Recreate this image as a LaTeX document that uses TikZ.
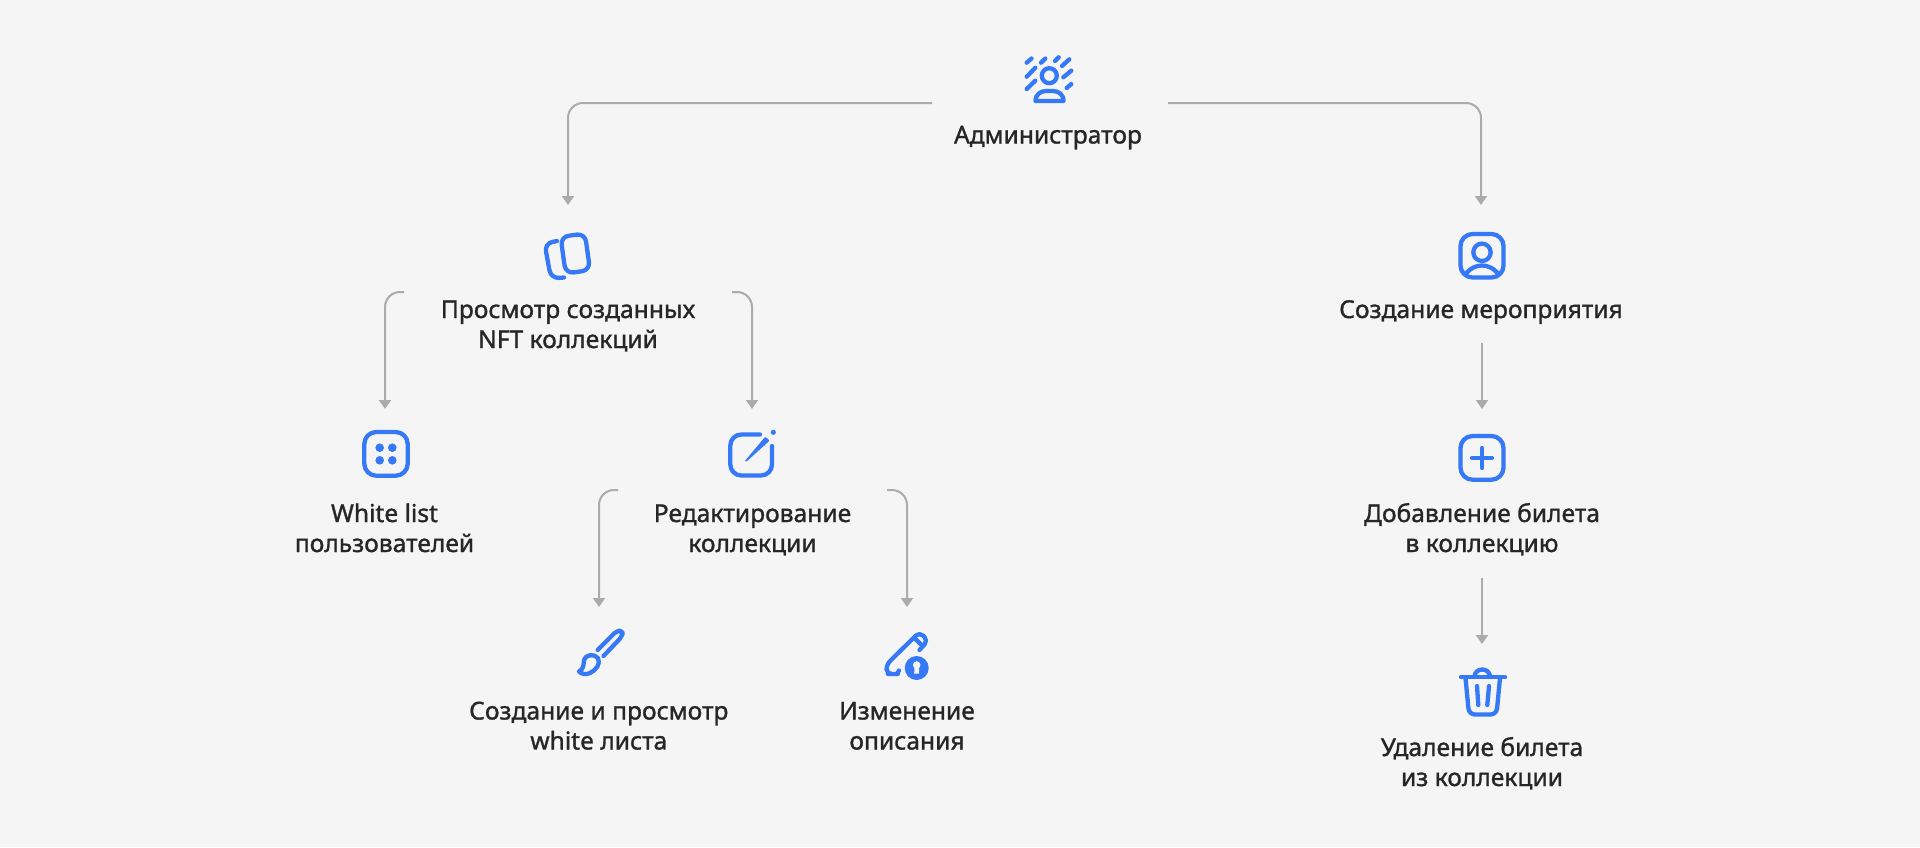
\documentclass[tikz,border=0pt]{standalone}
\usepackage{fontspec}
\setmainfont{Noto Sans}[FakeBold=1.2]
\usetikzlibrary{arrows.meta}
\definecolor{bgc}{HTML}{F5F5F5}
\definecolor{txt}{HTML}{262626}
\definecolor{blu}{HTML}{3579F6}
\definecolor{lin}{HTML}{ABABAB}
\newcommand\lbl[1]{\begin{tabular}[t]{@{}c@{}}#1\end{tabular}}
\tikzset{
  label text/.style={text=txt,inner sep=0pt,anchor=base,font=\fontsize{24.6}{30}\selectfont},
  conn/.style={draw=lin,line width=2pt,rounded corners=15pt,-{Triangle[length=9pt,width=12pt,fill=lin]}},
  icon/.style={draw=blu,line width=4.3pt,line cap=round,line join=round},
  iconfill/.style={fill=blu,draw=none}
}
\begin{document}
\begin{tikzpicture}[x=1pt,y=-1pt]
\useasboundingbox (0,0) rectangle (1920,847);
\fill[bgc] (0,0) rectangle (1920,847);
% labels
\node[label text] (admin) at (1048,143.5) {\lbl{Администратор}};
\node[label text] (view) at (568,318) {\lbl{Просмотр созданных\\NFT коллекций}};
\node[label text] (wl) at (384.5,522) {\lbl{White list\\пользователей}};
\node[label text] (edit) at (752.5,522) {\lbl{Редактирование\\коллекции}};
\node[label text] (make) at (598.8,719.5) {\lbl{Создание и просмотр\\white листа}};
\node[label text] (desc) at (907,719.5) {\lbl{Изменение\\описания}};
\node[label text] (event) at (1481,318) {\lbl{Создание мероприятия}};
\node[label text] (add) at (1482,522) {\lbl{Добавление билета\\в коллекцию}};
\node[label text] (del) at (1482,756) {\lbl{Удаление билета\\из коллекции}};
% connector ends
\coordinate (a1) at (932,103); \coordinate (a2) at (568,205);
\coordinate (b1) at (1168,103); \coordinate (b2) at (1481,205);
\coordinate (c1) at (404,292); \coordinate (c2) at (385,409);
\coordinate (d1) at (732,292); \coordinate (d2) at (752,409);
\coordinate (e1) at (618,490); \coordinate (e2) at (599,607);
\coordinate (f1) at (887,490); \coordinate (f2) at (907,607);
\coordinate (g1) at (1482,343); \coordinate (g2) at (1482,409);
\coordinate (h1) at (1482,578); \coordinate (h2) at (1482,644);
\draw[conn] (a1) -| (a2);
\draw[conn] (b1) -| (b2);
\draw[conn] (c1) -| (c2);
\draw[conn] (d1) -| (d2);
\draw[conn] (e1) -| (e2);
\draw[conn] (f1) -| (f2);
\draw[conn] (g1) -- (g2);
\draw[conn] (h1) -- (h2);
% admin icon
\draw[icon] (1049.3,75.7) circle (7.5);
\draw[icon] (1035.5,101) .. controls (1035.5,94) and (1041,91) .. (1046,91) -- (1053,91) .. controls (1058,91) and (1063.5,94) .. (1063.5,101) -- cycle;
\draw[icon] (1026.7,62.7)--(1031.5,58.5) (1041,62.7)--(1045.3,58.5) (1055,61)--(1058.7,57.3) (1062,66)--(1069.3,59.3)
  (1026.7,76.7)--(1035.3,67.8) (1026.7,89)--(1035.3,80.7) (1063.3,77.3)--(1071.3,70.7) (1066.7,88)--(1071.3,84);
% copies icon
\draw[icon,rounded corners=8pt,rotate around={8:(575.3,253.5)}] (563,235) rectangle (587.6,272);
\draw[icon,rounded corners=8pt] (557,241) -- (544.5,243.5) -- (551,278.5) -- (564,277.5);
% dots icon
\draw[icon,rounded corners=12pt] (364.3,432) rectangle (407.7,475.7);
\foreach \x/\y in {379.7/447.7,392.3/447.7,379.7/460.3,392.3/460.3} \fill[blu] (\x,\y) circle (4.3);
% edit icon
\draw[icon,rounded corners=11pt] (760,434.5) -- (730.3,434.5) -- (730.3,475.5) -- (772,475.5) -- (772,446);
\fill[blu,rounded corners=1pt] (744.5,461.5) -- (765.3,436.6) -- (769.6,440.7) -- (746.5,461.5) -- cycle;
\fill[blu] (773.3,432.3) circle (2.6);
% brush icon
\draw[icon,rounded corners=4pt] (597.7,650) -- (617,630.5) -- (622.5,631) -- (622.5,636) -- (603.5,656);
\draw[icon] (579,671.5) .. controls (584,669) and (583.5,664) .. (584,660) .. controls (585,655) and (594,653) .. (598,658) .. controls (601,664) and (596,670) .. (590,673) .. controls (586,675) and (581,674) .. (579,671.5) -- cycle;
% pen-info icon
\draw[icon,rounded corners=5pt] (899,670.5) .. controls (898,673) and (896,674) .. (893,674) -- (886.5,674) -- (886.5,664.5) -- (919.5,632) -- (928,640.5) -- (919.5,650);
\draw[icon,line cap=butt] (915,638.5) -- (923.5,647);
\fill[blu] (916.7,668) circle (12);
\fill[bgc] (916.7,665) circle (3.8);
\fill[bgc] (914.6,665) -- (918.8,665) -- (919.2,673.5) -- (914.2,673.5) -- cycle;
% person icon
\begin{scope}
\clip[rounded corners=12pt] (1460.5,234) rectangle (1503.5,277.5);
\draw[icon] (1464,276) .. controls (1470,268) and (1476,265.5) .. (1482,265.5) .. controls (1488,265.5) and (1494,268) .. (1500,276);
\end{scope}
\draw[icon,rounded corners=12pt] (1460.5,234) rectangle (1503.5,277.5);
\draw[icon] (1482,252.3) circle (8.7);
% plus icon
\draw[icon,rounded corners=12pt] (1460.5,436) rectangle (1503.5,479.7);
\draw[icon] (1472,458) -- (1492,458) (1482,448) -- (1482,468);
% trash icon
\draw[icon] (1461,677.3) -- (1505,677.3);
\draw[icon] (1474.5,677) .. controls (1474.5,667) and (1490,667) .. (1490,677);
\draw[icon,rounded corners=6pt] (1465.5,678) -- (1469,714.5) -- (1496.5,714.5) -- (1500,678);
\draw[icon] (1477,686) -- (1478.3,705) (1489,686) -- (1487.3,705);
\end{tikzpicture}
\end{document}
